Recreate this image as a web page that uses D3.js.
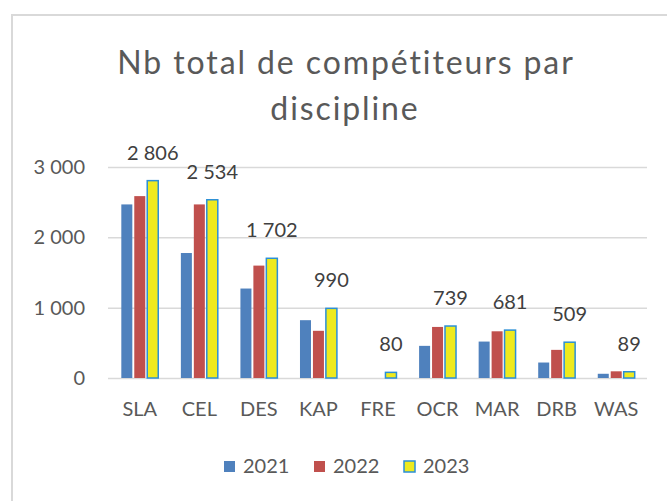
<!DOCTYPE html>
<html>
<head>
<meta charset="utf-8">
<script src="https://cdn.jsdelivr.net/npm/d3@7"></script>
<style>
  body { margin: 0; background: #fff; }
  svg text { font-family: Lato, "Open Sans", sans-serif; }
</style>
</head>
<body>
<div id="chart"></div>
<script>
// Data
var categories = ["SLA", "CEL", "DES", "KAP", "FRE", "OCR", "MAR", "DRB", "WAS"];
var years = ["2021", "2022", "2023"];
var values2021 = [2468, 1777, 1272, 822, 0, 457, 518, 220, 60];
var values2022 = [2586, 2468, 1598, 671, 0, 726, 664, 400, 95];
var values2023 = [2806, 2534, 1702, 990, 80, 739, 681, 509, 89];
var yTicks = [0, 1000, 2000, 3000];

var seriesValues = [values2021, values2022, values2023];
var colors = ["#4f81bd", "#c0504d", "#eeea1e"];
var strokes = [null, null, "#2b8fd6"];

var width = 667;
var height = 501;
var plot = { left: 110, right: 646, top: 167, bottom: 378 };

var fr = d3.formatLocale({ decimal: ",", thousands: " ", grouping: [3], currency: ["", " €"] });
var fmt = fr.format(",d");

var svg = d3.select("#chart")
  .append("svg")
  .attr("width", width)
  .attr("height", height);

// chart frame
svg.append("rect")
  .attr("x", 12)
  .attr("y", 15)
  .attr("width", 720)
  .attr("height", 600)
  .attr("fill", "#fff")
  .attr("stroke", "#d9d9d9")
  .attr("stroke-width", 2);

// title
var title = svg.append("text")
  .attr("text-anchor", "middle")
  .attr("fill", "#595959")
  .style("font-size", "32px")
  .style("letter-spacing", "1.9px");
title.append("tspan").attr("x", 346).attr("y", 74).text("Nb total de compétiteurs par");
title.append("tspan").attr("x", 345).attr("y", 120).text("discipline");

// scales
var x0 = d3.scaleBand()
  .domain(categories)
  .range([plot.left, plot.right])
  .paddingInner(0.38)
  .paddingOuter(0.19);

var x1 = d3.scaleBand()
  .domain(years)
  .range([0, x0.bandwidth()])
  .paddingInner(0.15);

var y = d3.scaleLinear()
  .domain([0, 3000])
  .range([plot.bottom, plot.top]);

// y axis + gridlines
var yAxis = svg.append("g")
  .attr("transform", "translate(" + (plot.left - 2) + ",0)")
  .call(d3.axisLeft(y)
    .tickValues(yTicks)
    .tickFormat(fmt)
    .tickSize(-(plot.right - plot.left + 3))
    .tickPadding(23));
yAxis.select(".domain").remove();
yAxis.selectAll(".tick line").attr("stroke", "#d9d9d9").attr("stroke-width", 1.5);
yAxis.selectAll(".tick text")
  .attr("fill", "#595959")
  .style("font-size", "20px");

// x axis labels
var xAxis = svg.append("g")
  .attr("transform", "translate(0," + plot.bottom + ")")
  .call(d3.axisBottom(x0).tickSize(0).tickPadding(24));
xAxis.select(".domain").remove();
xAxis.selectAll(".tick text")
  .attr("fill", "#595959")
  .style("font-size", "20px");

// bars
var rows = categories.map(function(c, i) {
  return { cat: c, vals: years.map(function(yr, j) { return { year: yr, idx: j, v: seriesValues[j][i] }; }) };
});

var groups = svg.selectAll(".grp")
  .data(rows)
  .enter().append("g")
  .attr("class", "grp")
  .attr("transform", function(d) { return "translate(" + x0(d.cat) + ",0)"; });

groups.selectAll("rect")
  .data(function(d) { return d.vals.filter(function(e) { return e.v > 0; }); })
  .enter().append("rect")
  .attr("x", function(d) { return x1(d.year); })
  .attr("y", function(d) { return y(d.v); })
  .attr("width", x1.bandwidth())
  .attr("height", function(d) { return y(0) - y(d.v); })
  .attr("fill", function(d) { return colors[d.idx]; })
  .attr("stroke", function(d) { return strokes[d.idx]; })
  .attr("stroke-width", 1.5);

// data labels on the 2023 series
groups.append("text")
  .attr("x", function() { return x1("2023") + x1.bandwidth() / 2; })
  .attr("y", function(d, i) { return y(values2023[i]) - 21; })
  .attr("text-anchor", "middle")
  .attr("fill", "#404040")
  .style("font-size", "20px")
  .text(function(d, i) { return fmt(values2023[i]); });

// legend
var legend = svg.append("g")
  .attr("transform", "translate(224,461)");
var items = legend.selectAll(".item")
  .data(years)
  .enter().append("g")
  .attr("class", "item")
  .attr("transform", function(d, i) { return "translate(" + (i * 90) + ",0)"; });
items.append("rect")
  .attr("width", 11)
  .attr("height", 11)
  .attr("fill", function(d, i) { return colors[i]; })
  .attr("stroke", function(d, i) { return strokes[i]; })
  .attr("stroke-width", 1.5);
items.append("text")
  .attr("x", 19)
  .attr("y", 12)
  .attr("fill", "#595959")
  .style("font-size", "20px")
  .text(function(d) { return d; });
</script>
</body>
</html>
